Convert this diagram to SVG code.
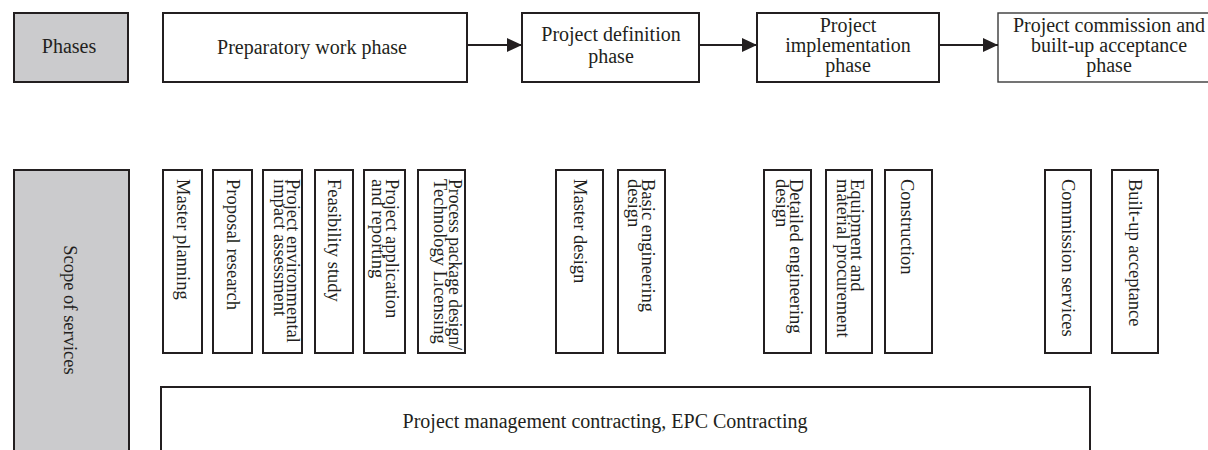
<svg xmlns="http://www.w3.org/2000/svg" width="1208" height="450" viewBox="0 0 1208 450">
  <style>
    .box { fill: #ffffff; stroke: #231f20; stroke-width: 2; }
    .head { fill: #cbcbcd; stroke: #231f20; stroke-width: 2; }
    .thin { fill: #ffffff; stroke: #3a3a3a; stroke-width: 1.4; }
    .t { font-family: "Liberation Serif", "Times New Roman", serif; font-size: 20px; fill: #231f20; text-anchor: middle; }
    .v { font-family: "Liberation Serif", "Times New Roman", serif; font-size: 18.5px; fill: #231f20; }
    .link { stroke: #231f20; stroke-width: 2; fill: none; marker-end: url(#arrow); }
  </style>
  <defs>
    <marker id="arrow" markerUnits="userSpaceOnUse" markerWidth="15" markerHeight="14" refX="15" refY="7" orient="auto">
      <path d="M0,0 L15,7 L0,14 Z" fill="#231f20"/>
    </marker>
  </defs>

  <rect width="1208" height="450" fill="#ffffff"/>

  <!-- Row headers -->
  <g id="phases">
    <rect class="head" x="14" y="13" width="114" height="69"/>
    <text class="t" x="69" y="53">Phases</text>
  </g>
  <g id="scope">
    <rect class="head" x="14" y="170" width="115" height="300"/>
    <text class="v" transform="translate(64,310) rotate(90)" text-anchor="middle" fill="#2e2e2e">Scope of services</text>
  </g>

  <!-- Phase sequence -->
  <g id="preparatory">
    <rect class="box" x="163" y="13" width="304" height="69"/>
    <text class="t" x="312" y="54">Preparatory work phase</text>
  </g>
  <g id="definition">
    <rect class="box" x="522" y="13" width="177" height="69"/>
    <text class="t" x="611" y="41">Project definition</text>
    <text class="t" x="611" y="63">phase</text>
  </g>
  <g id="implementation">
    <rect class="box" x="757" y="13" width="182" height="69"/>
    <text class="t" x="848" y="32">Project</text>
    <text class="t" x="848" y="52">implementation</text>
    <text class="t" x="848" y="72">phase</text>
  </g>
  <g id="commission">
    <rect class="thin" x="998" y="13" width="224" height="69"/>
    <text class="t" x="1109" y="32">Project commission and</text>
    <text class="t" x="1109" y="52">built-up acceptance</text>
    <text class="t" x="1109" y="72">phase</text>
  </g>

  <g id="connectors">
    <line class="link" x1="467" y1="45" x2="522" y2="45"/>
    <line class="link" x1="699" y1="45" x2="757" y2="45"/>
    <line class="link" x1="939" y1="45" x2="998" y2="45"/>
  </g>

  <!-- Services (vertical labels read top to bottom) -->
  <g id="master-planning">
    <rect class="box" x="163" y="170" width="39" height="183"/>
    <text class="v" transform="translate(176.5,179) rotate(90)">Master planning</text>
  </g>
  <g id="proposal-research">
    <rect class="box" x="213" y="170" width="39" height="183"/>
    <text class="v" transform="translate(226.5,179) rotate(90)">Proposal research</text>
  </g>
  <g id="environmental-assessment">
    <rect class="box" x="263" y="170" width="39" height="183"/>
    <text class="v" transform="translate(287,179) rotate(90)"><tspan x="0" y="0">Project environmental</tspan><tspan x="0" y="13.5">impact assessment</tspan></text>
  </g>
  <g id="feasibility-study">
    <rect class="box" x="315" y="170" width="38" height="183"/>
    <text class="v" transform="translate(328,179) rotate(90)">Feasibility study</text>
  </g>
  <g id="application-reporting">
    <rect class="box" x="364" y="170" width="41" height="183"/>
    <text class="v" transform="translate(386,179) rotate(90)"><tspan x="0" y="0">Project application</tspan><tspan x="0" y="14">and reporting</tspan></text>
  </g>
  <g id="process-package">
    <rect class="box" x="418" y="170" width="47" height="183"/>
    <text class="v" transform="translate(448.5,179) rotate(90)"><tspan x="0" y="0" textLength="171" lengthAdjust="spacingAndGlyphs">Process package design/</tspan><tspan x="0" y="14.5">Technology Licensing</tspan></text>
  </g>
  <g id="master-design">
    <rect class="box" x="556" y="170" width="47" height="183"/>
    <text class="v" transform="translate(574,179) rotate(90)">Master design</text>
  </g>
  <g id="basic-engineering">
    <rect class="box" x="618" y="170" width="47" height="183"/>
    <text class="v" transform="translate(642,179) rotate(90)"><tspan x="0" y="0">Basic engineering</tspan><tspan x="0" y="14">design</tspan></text>
  </g>
  <g id="detailed-engineering">
    <rect class="box" x="764" y="170" width="47" height="183"/>
    <text class="v" transform="translate(790,179) rotate(90)"><tspan x="0" y="0">Detailed engineering</tspan><tspan x="0" y="14">design</tspan></text>
  </g>
  <g id="procurement">
    <rect class="box" x="826" y="170" width="46" height="183"/>
    <text class="v" transform="translate(850.5,179) rotate(90)"><tspan x="0" y="0">Equipment and</tspan><tspan x="0" y="14">material procurement</tspan></text>
  </g>
  <g id="construction">
    <rect class="box" x="885" y="170" width="47" height="183"/>
    <text class="v" transform="translate(901,179) rotate(90)">Construction</text>
  </g>
  <g id="commission-services">
    <rect class="box" x="1045" y="170" width="46" height="183"/>
    <text class="v" transform="translate(1062,179) rotate(90)">Commission services</text>
  </g>
  <g id="built-up-acceptance">
    <rect class="box" x="1112" y="170" width="46" height="183"/>
    <text class="v" transform="translate(1129,179) rotate(90)">Built-up acceptance</text>
  </g>

  <!-- Overall contracting band -->
  <g id="contracting">
    <rect class="box" x="161" y="387" width="929" height="90"/>
    <text class="t" x="605" y="428">Project management contracting, EPC Contracting</text>
  </g>
</svg>
